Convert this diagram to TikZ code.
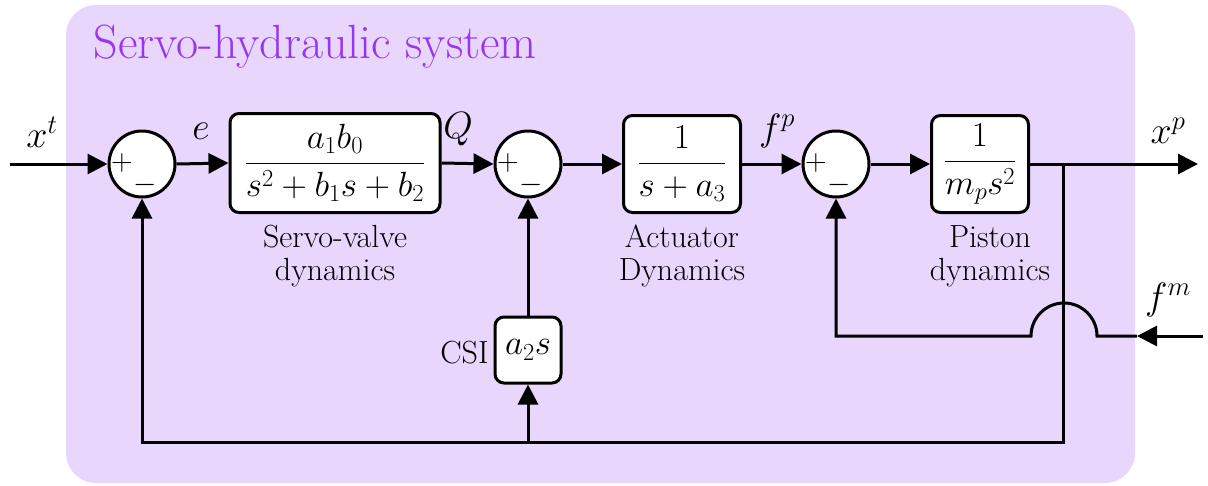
\RequirePackage{fix-cm}
\documentclass[tikz,border=0pt]{standalone}
\usepackage{amsmath}
\usetikzlibrary{arrows.meta}
\definecolor{bgpurple}{HTML}{E8D6FD}
\definecolor{titlepurple}{HTML}{9636F2}
\begin{document}
\begin{tikzpicture}[x=1pt,y=-1pt,
  line width=3pt,
  >={Triangle[length=20pt,width=20pt]},
  sumnode/.style={circle,draw,fill=white,minimum size=66pt,inner sep=0pt},
  blk/.style={draw,fill=white,rounded corners=9pt,inner sep=0pt,font=\fontsize{35}{40}\selectfont},
  sig/.style={font=\fontsize{38}{42}\selectfont},
  captxt/.style={align=center,font=\fontsize{32}{33}\selectfont},
  pm/.style={font=\fontsize{30}{32}\selectfont,inner sep=0pt}
]
\useasboundingbox (0,0) rectangle (1208,485);
\fill[bgpurple,rounded corners=30pt] (66,5) rectangle (1135,483);
\node[anchor=base west,text=titlepurple,font=\fontsize{48}{52}\selectfont,inner sep=0pt] (title) at (92,58) {Servo-hydraulic system};

% summing junctions
\node[sumnode] (s1) at (142,164) {};
\node[sumnode] (s2) at (528,164) {};
\node[sumnode] (s3) at (836,164) {};
\foreach \s in {s1,s2,s3}{
  \node[pm] (\s p) at ([xshift=-20pt,yshift=1pt]\s.center) {$+$};
  \node[pm] (\s m) at ([xshift=3pt,yshift=-21pt]\s.center) {$-$};
}

% blocks
\node[blk,minimum width=210pt,minimum height=99pt] (b1) at (335,163) {$\dfrac{a_1b_0}{s^2+b_1s+b_2}$};
\node[blk,minimum width=117pt,minimum height=97pt] (b2) at (682,164) {$\dfrac{1}{s+a_3}$};
\node[blk,minimum width=97pt,minimum height=97pt] (b3) at (980,164) {$\dfrac{1}{m_ps^2}$};
\node[blk,minimum width=66pt,minimum height=66pt] (csi) at (528,350) {$a_2s$};

% captions
\node[captxt] (c1) at (335,256) {Servo-valve\\dynamics};
\node[captxt] (c2) at (682,256) {Actuator\\Dynamics};
\node[captxt] (c3) at (990,256) {Piston\\dynamics};
\node[captxt,anchor=east,inner sep=0pt] (csil) at (490,353) {CSI};

% signal labels
\node[sig] (xt) at (42,132) {$x^t$};
\node[sig] (e) at (201,131) {$e$};
\node[sig] (Q) at (458,129) {$Q$};
\node[sig] (fp) at (777,131) {$f^p$};
\node[sig] (xp) at (1168,131) {$x^p$};
\node[sig] (fm) at (1168,300) {$f^m$};

% coordinates
\coordinate (in) at (10,164);
\coordinate (out) at (1198,164);
\coordinate (br) at (1063,164);
\coordinate (brb) at (1063,442);
\coordinate (csib) at (528,442);
\coordinate (fmin) at (1203,336);
\coordinate (fmtip) at (1137,336);
\coordinate (jr) at (1097,336);
\coordinate (fl) at (836,336);

% forward path
\draw[->] (in) -- (s1.west);
\draw[->] (s1.east) -- (b1.west);
\draw[->] (b1.east) -- (s2.west);
\draw[->] (s2.east) -- (b2.west);
\draw[->] (b2.east) -- (s3.west);
\draw[->] (s3.east) -- (b3.west);
\draw[->] (b3.east) -- (out);

% feedback
\draw[->] (br) -- (brb) -| (s1.south);
\draw[->] (csib) -- (csi.south);
\draw[->] (csi.north) -- (s2.south);

% external force with jump
\draw[->] (fmin) -- (fmtip);
\draw[->] (fmtip) -- (jr) arc[start angle=0,end angle=-180,radius=33] -- (fl) -- (s3.south);
\end{tikzpicture}
\end{document}
